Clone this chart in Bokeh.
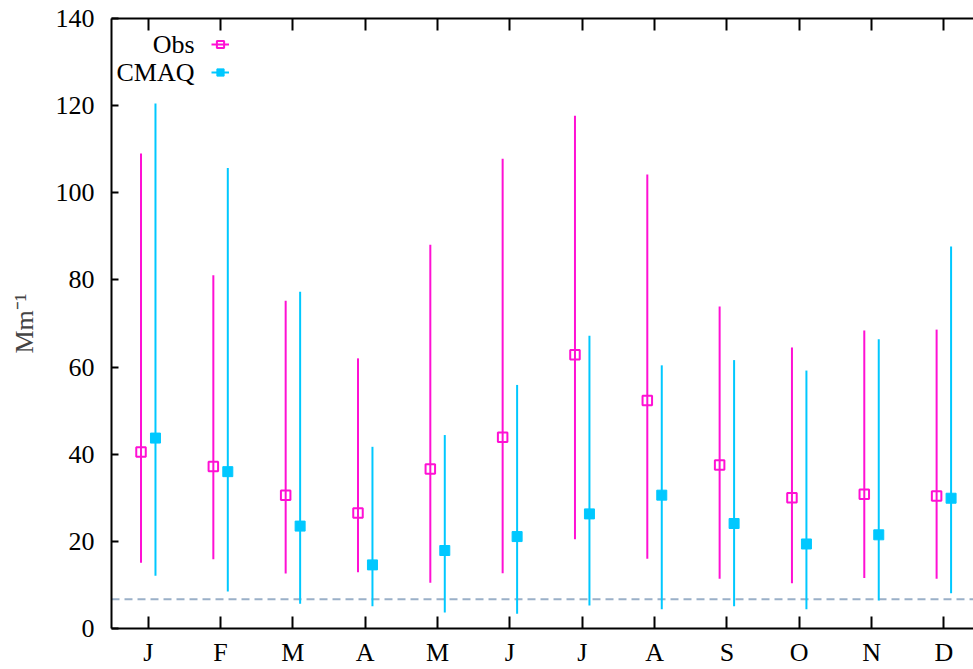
from bokeh.plotting import figure
from bokeh.models import (Range1d, Span, LinearAxis, FixedTicker, Legend, LegendItem,
                          ColumnDataSource, Label)
from bokeh.embed import file_html
from bokeh.resources import INLINE

# ---- data ----
months = ["J", "F", "M", "A", "M", "J", "J", "A", "S", "O", "N", "D"]
month_pos = [1, 2, 3, 4, 5, 6, 7, 8, 9, 10, 11, 12]
obs_mean = [40.5, 37.2, 30.6, 26.5, 36.6, 43.9, 62.8, 52.3, 37.5, 30.0, 30.8, 30.4]
obs_low = [15.1, 15.9, 12.6, 12.9, 10.5, 12.7, 20.5, 16.0, 11.4, 10.4, 11.6, 11.4]
obs_high = [109.0, 81.1, 75.2, 62.0, 88.1, 107.8, 117.7, 104.2, 73.9, 64.5, 68.4, 68.6]
cmaq_mean = [43.7, 36.0, 23.5, 14.6, 17.9, 21.1, 26.3, 30.6, 24.1, 19.4, 21.5, 29.9]
cmaq_low = [12.1, 8.5, 5.7, 5.1, 3.7, 3.4, 5.3, 4.4, 5.1, 4.4, 6.4, 8.1]
cmaq_high = [120.5, 105.7, 77.3, 41.7, 44.4, 55.9, 67.2, 60.4, 61.6, 59.2, 66.4, 87.7]
threshold = 6.7
y_ticks = [0, 20, 40, 60, 80, 100, 120, 140]
series_names = ["Obs", "CMAQ"]

MAG = "#ff10d4"
CYAN = "#00c8ff"
FONT = "Liberation Serif"
OFF = 0.1

obs_src = ColumnDataSource(dict(x=[m - OFF for m in month_pos], y=obs_mean,
                                lo=obs_low, hi=obs_high))
cmaq_src = ColumnDataSource(dict(x=[m + OFF for m in month_pos], y=cmaq_mean,
                                 lo=cmaq_low, hi=cmaq_high))

p = figure(width=973, height=669, output_backend="svg", toolbar_location=None,
           x_range=Range1d(0.492, 12.41), y_range=Range1d(0, 140),
           min_border_left=111, min_border_right=0, min_border_top=18,
           min_border_bottom=41)
p.outline_line_color = None
p.grid.visible = False
p.background_fill_color = "white"

# threshold dashed line
p.add_layout(Span(location=threshold, dimension="width", line_color="#9ab0c8",
                  line_width=2, line_dash="8 5", level="underlay"))

# error bars
s_obs = p.segment(x0="x", y0="lo", x1="x", y1="hi", source=obs_src, line_color=MAG, line_width=2)
s_cmaq = p.segment(x0="x", y0="lo", x1="x", y1="hi", source=cmaq_src, line_color=CYAN, line_width=2)
r_obs = p.scatter(x="x", y="y", source=obs_src, marker="square", size=9.5,
                  fill_color=None, line_color=MAG, line_width=2)
r_cmaq = p.scatter(x="x", y="y", source=cmaq_src, marker="square", size=10,
                   fill_color=CYAN, line_color=CYAN, line_width=1)

# axes
xa = p.xaxis[0]
xa.ticker = FixedTicker(ticks=month_pos)
xa.major_label_overrides = {m: lab for m, lab in zip(month_pos, months)}
xa.major_tick_in = 12
xa.major_tick_out = 0
xa.minor_tick_line_color = None
xa.axis_line_width = 2
xa.major_tick_line_width = 2
xa.major_label_text_font = FONT
xa.major_label_text_font_size = "26px"
xa.major_label_text_color = "black"
xa.major_label_standoff = 9

ya = p.yaxis[0]
ya.ticker = FixedTicker(ticks=y_ticks)
ya.major_tick_in = 7
ya.major_tick_out = 0
ya.minor_tick_line_color = None
ya.axis_line_width = 2
ya.major_tick_line_width = 2
ya.major_label_text_font = FONT
ya.major_label_text_font_size = "26px"
ya.major_label_text_color = "black"
ya.major_label_standoff = 17
ya.axis_label = "Mm\u207b\u00b9"
ya.axis_label_text_font = FONT
ya.axis_label_text_font_size = "26px"
ya.axis_label_text_font_style = "normal"
ya.axis_label_standoff = 14

top = LinearAxis(ticker=FixedTicker(ticks=month_pos), major_tick_in=12, major_tick_out=0,
                 major_label_overrides={m: "" for m in month_pos}, major_label_standoff=0,
                 minor_tick_line_color=None, axis_line_width=2, major_tick_line_width=2)
p.add_layout(top, "above")

# legend keys (labels drawn to their left, as in the original)
legend = Legend(items=[LegendItem(label=" ", renderers=[s_obs, r_obs]),
                       LegendItem(label=" ", renderers=[s_cmaq, r_cmaq])],
                location=(100, 546), padding=0, margin=0, spacing=8,
                glyph_width=18, glyph_height=20, label_height=20,
                label_standoff=0, label_text_font_size="10px",
                border_line_color=None, background_fill_alpha=0)
p.add_layout(legend)
for name, yv in zip(series_names, [134.0, 127.6]):
    p.add_layout(Label(x=1.64, y=yv, text=name, text_align="right",
                       text_baseline="middle", text_font=FONT, text_font_size="26px",
                       text_color="black"))

open("out.html", "w").write(file_html(p, INLINE))
